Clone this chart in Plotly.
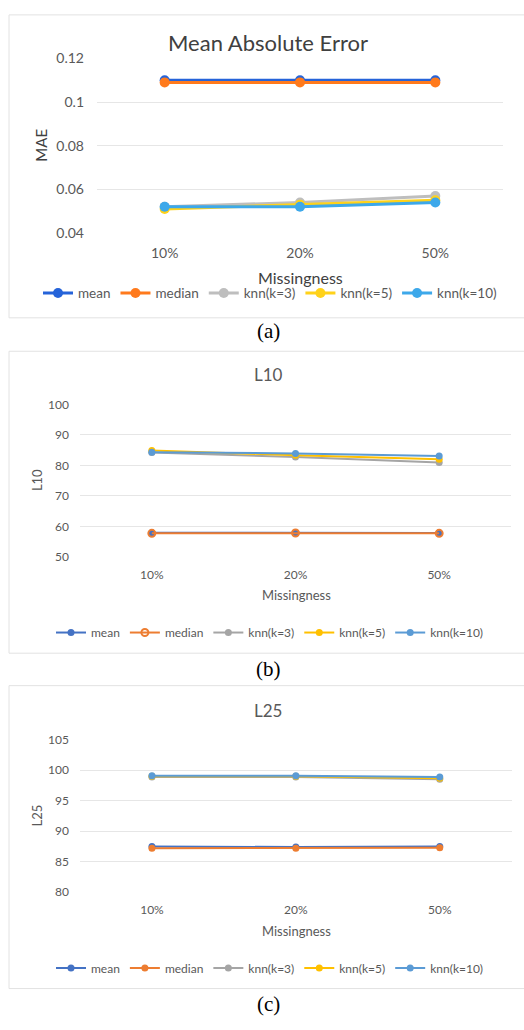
import plotly.graph_objects as go

W, H = 524, 1030

missingness = ["10%", "20%", "50%"]
series_names = ["mean", "median", "knn(k=3)", "knn(k=5)", "knn(k=10)"]

# Panel (a) MAE
mae_mean = [0.110, 0.110, 0.110]
mae_median = [0.109, 0.109, 0.109]
mae_knn3 = [0.052, 0.054, 0.057]
mae_knn5 = [0.051, 0.053, 0.055]
mae_knn10 = [0.052, 0.052, 0.054]

# Panel (b) L10
l10_mean = [57.9, 57.9, 57.8]
l10_median = [57.7, 57.8, 57.7]
l10_knn3 = [84.2, 82.7, 80.9]
l10_knn5 = [84.9, 83.3, 82.0]
l10_knn10 = [84.3, 83.9, 83.1]

# Panel (c) L25
l25_mean = [87.5, 87.4, 87.5]
l25_median = [87.2, 87.2, 87.3]
l25_knn3 = [98.9, 98.9, 98.5]
l25_knn5 = [99.0, 99.0, 98.7]
l25_knn10 = [99.1, 99.1, 98.9]

colors_a = ["#2563D9", "#FF7A1C", "#BEBEBE", "#FFD21A", "#3DA8EA"]
colors_bc = ["#4472C4", "#ED7D31", "#A5A5A5", "#FFC000", "#5B9BD5"]

FONT = "Lato"
GRAY = "#595959"


def fx(p):
    return p / W


def fy(p):
    return 1 - p / H


fig = go.Figure()

panels = [
    dict(data=[mae_mean, mae_median, mae_knn3, mae_knn5, mae_knn10], colors=colors_a,
         xa="x", ya="y", legend="legend", msize=10, lw=3, open_median=False),
    dict(data=[l10_mean, l10_median, l10_knn3, l10_knn5, l10_knn10], colors=colors_bc,
         xa="x2", ya="y2", legend="legend2", msize=7, lw=2, open_median=True),
    dict(data=[l25_mean, l25_median, l25_knn3, l25_knn5, l25_knn10], colors=colors_bc,
         xa="x3", ya="y3", legend="legend3", msize=7, lw=2, open_median=False),
]

for p in panels:
    for i, (name, vals) in enumerate(zip(series_names, p["data"])):
        col = p["colors"][i]
        if p["open_median"] and name == "median":
            marker = dict(symbol="circle-open", size=p["msize"], color=col, line=dict(width=2, color=col))
        else:
            marker = dict(symbol="circle", size=p["msize"], color=col)
        fig.add_trace(go.Scatter(
            x=missingness, y=vals, name=name, mode="lines+markers",
            line=dict(color=col, width=p["lw"]), marker=marker,
            xaxis=p["xa"], yaxis=p["ya"], legend=p["legend"], cliponaxis=False,
        ))

xcommon = dict(type="category", range=[-0.5, 2.5], showgrid=False, zeroline=False,
               showline=False, ticks="", tickfont=dict(family=FONT, color=GRAY))
ycommon = dict(showgrid=True, gridcolor="#E6E6E6", gridwidth=1, zeroline=False,
               showline=False, ticks="", tickfont=dict(family=FONT, color=GRAY))

fig.update_layout(
    width=W, height=H, margin=dict(l=0, r=0, t=0, b=0),
    paper_bgcolor="white", plot_bgcolor="white",
    font=dict(family=FONT, color=GRAY),
    xaxis=dict(**xcommon, domain=[fx(97), fx(503)], anchor="y",
               tickfont_size=14, ticklabelstandoff=10),
    yaxis=dict(**ycommon, domain=[fy(228), fy(50)], anchor="x",
               range=[0.0399, 0.1201], tickvals=[0.04, 0.06, 0.08, 0.1, 0.12],
               ticktext=["0.04", "0.06", "0.08", "0.1", "0.12"],
               tickfont_size=14, ticklabelstandoff=12),
    xaxis2=dict(**xcommon, domain=[fx(80), fx(511)], anchor="y2",
                tickfont_size=12, ticklabelstandoff=9),
    yaxis2=dict(**ycommon, domain=[fy(557.3), fy(401.7)], anchor="x2",
                range=[49.9, 100.1], tickvals=[50, 60, 70, 80, 90, 100],
                tickfont_size=12, ticklabelstandoff=10),
    xaxis3=dict(**xcommon, domain=[fx(80), fx(511.7)], anchor="y3",
                tickfont_size=12, ticklabelstandoff=9),
    yaxis3=dict(**ycommon, domain=[fy(898.3), fy(742.7)], anchor="x3",
                range=[79.95, 105.05], tickvals=[80, 85, 90, 95, 100, 105],
                tickfont_size=12, ticklabelstandoff=10),
    legend=dict(orientation="h", x=fx(270), xanchor="center", y=fy(289), yanchor="middle",
                font=dict(family=FONT, size=13.5, color=GRAY), bgcolor="rgba(0,0,0,0)"),
    legend2=dict(orientation="h", x=fx(270), xanchor="center", y=fy(634), yanchor="middle",
                 font=dict(family=FONT, size=12, color=GRAY), bgcolor="rgba(0,0,0,0)"),
    legend3=dict(orientation="h", x=fx(270), xanchor="center", y=fy(975), yanchor="middle",
                 font=dict(family=FONT, size=12, color=GRAY), bgcolor="rgba(0,0,0,0)"),
)

# Panel borders
for top, bot in [(6, 314), (348, 655), (688, 996)]:
    fig.add_shape(type="rect", xref="paper", yref="paper",
                  x0=fx(9), x1=fx(540), y0=fy(bot), y1=fy(top),
                  line=dict(color="#E2E2E2", width=1), fillcolor="rgba(0,0,0,0)", layer="below")

annots = [
    ("Mean Absolute Error", 268, 34, 22, 0, FONT, "#404040"),
    ("L10", 268, 372, 17, 0, FONT, GRAY),
    ("L25", 268, 713, 17, 0, FONT, GRAY),
    ("MAE", 41, 139, 15, -90, FONT, "#404040"),
    ("L10", 37, 479, 13, -90, FONT, GRAY),
    ("L25", 37, 820, 13, -90, FONT, GRAY),
    ("Missingness", 300, 273, 16, 0, FONT, "#404040"),
    ("Missingness", 296, 596, 13, 0, FONT, GRAY),
    ("Missingness", 296, 937, 13, 0, FONT, GRAY),
    ("(a)", 268, 327, 21, 0, "Liberation Serif", "black"),
    ("(b)", 268, 671, 21, 0, "Liberation Serif", "black"),
    ("(c)", 268, 1012, 21, 0, "Liberation Serif", "black"),
]
for text, x, y, size, ang, fam, col in annots:
    fig.add_annotation(text=text, xref="paper", yref="paper", x=fx(x), y=fy(y),
                       xanchor="center", yanchor="middle", showarrow=False,
                       textangle=ang, font=dict(family=fam, size=size, color=col))

fig.write_html("out.html", config={"displayModeBar": False},
               post_script="document.body.style.margin='0';document.body.style.overflow='hidden';")
